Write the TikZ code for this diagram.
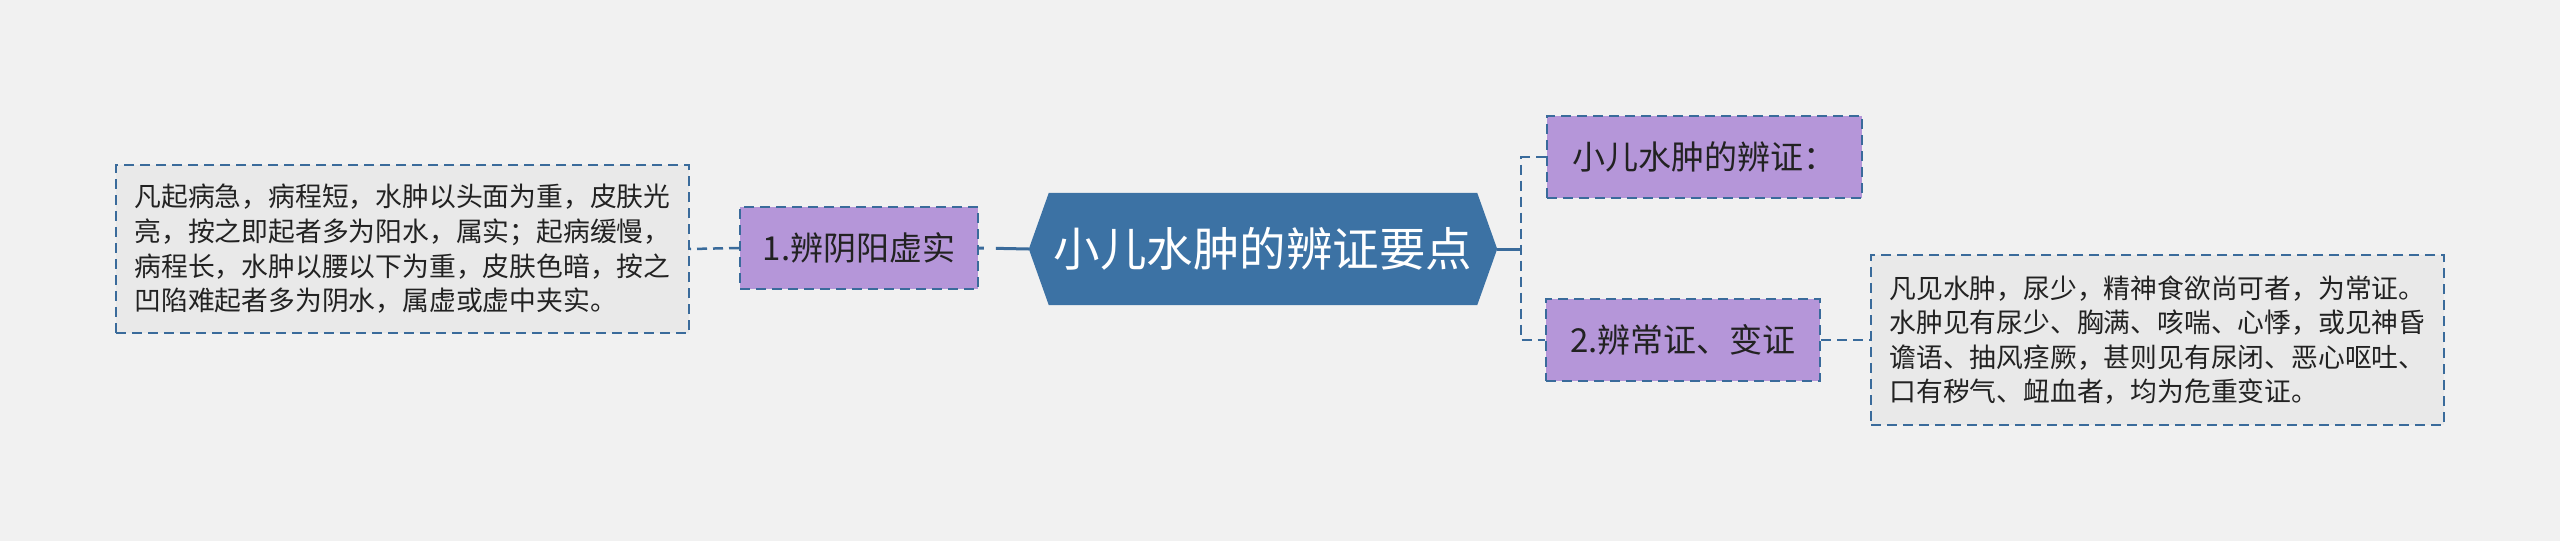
\documentclass[tikz,border=0pt]{standalone}
\usepackage{fontspec}
\setmainfont{Noto Sans CJK SC}
\definecolor{bgc}{HTML}{F1F1F1}
\definecolor{hexc}{HTML}{3C72A4}
\definecolor{linec}{HTML}{3A6B9B}
\definecolor{purp}{HTML}{B596D9}
\definecolor{txtbox}{HTML}{E9E9E9}
\definecolor{darktext}{HTML}{222222}
\tikzset{
  dashbox/.style={draw=linec, line width=2pt, dash pattern=on 10pt off 6pt, inner sep=0pt},
  purpbox/.style={dashbox, fill=purp, text=darktext, font=\fontsize{33}{40}\selectfont},
  notebox/.style={dashbox, fill=txtbox, text=darktext, align=left, font=\fontsize{26.8}{34.6}\selectfont},
  dashconn/.style={draw=linec, line width=2.5pt, dash pattern=on 10pt off 6pt},
  solidconn/.style={draw=linec, line width=3pt},
}
\begin{document}
\begin{tikzpicture}[x=1pt,y=-1pt]
\path[fill=bgc] (0,0) rectangle (2560,541);
\useasboundingbox (0,0) rectangle (2560,541);
% central hexagon
\node[minimum width=468pt, minimum height=112pt, inner sep=0pt] (hex) at (1263,249) {};
\fill[hexc] (hex.west) -- ([xshift=20pt]hex.north west) -- ([xshift=-20pt]hex.north east) -- (hex.east) -- ([xshift=-20pt]hex.south east) -- ([xshift=20pt]hex.south west) -- cycle;
\node[text=white, font=\fontsize{46.5}{50}\selectfont] (hextext) at (hex.center) {小儿水肿的辨证要点};
% left branch
\node[purpbox, minimum width=238pt, minimum height=82pt] (b1) at (859,248) {1.辨阴阳虚实};
\node[notebox, minimum width=573pt, minimum height=168pt] (leftnote) at (402.5,249) {凡起病急，病程短，水肿以头面为重，皮肤光\\亮，按之即起者多为阳水，属实；起病缓慢，\\病程长，水肿以腰以下为重，皮肤色暗，按之\\凹陷难起者多为阴水，属虚或虚中夹实。};
% right branch
\node[purpbox, minimum width=315pt, minimum height=82pt] (b0) at (1704,157) {小儿水肿的辨证：};
\node[purpbox, minimum width=274pt, minimum height=82pt] (b2) at (1683,340) {2.辨常证、变证};
\node[notebox, minimum width=573pt, minimum height=170pt] (rightnote) at (2157.5,340) {凡见水肿，尿少，精神食欲尚可者，为常证。\\水肿见有尿少、胸满、咳喘、心悸，或见神昏\\谵语、抽风痉厥，甚则见有尿闭、恶心呕吐、\\口有秽气、衄血者，均为危重变证。};
% connectors
\coordinate (jr) at (1521,249);
\draw[draw=linec, line width=3pt, dash pattern=on 33pt off 12pt on 20pt] (hex.west) -- (b1.east);
\draw[dashconn] (b1.west) -- (leftnote.east);
\draw[solidconn] (hex.east) -- (jr);
\draw[dashconn] (b0.west) -| (jr) |- (b2.west);
\draw[dashconn] (b2.east) -- (rightnote.west);
\end{tikzpicture}
\end{document}
